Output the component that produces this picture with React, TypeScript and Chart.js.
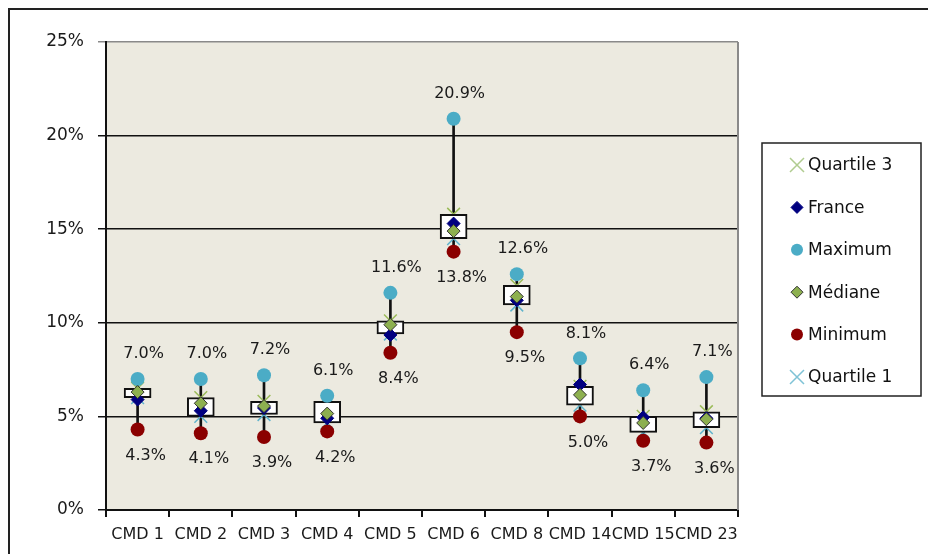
import { useEffect, useRef } from 'react';
import { Chart, registerables } from 'chart.js';
Chart.register(...registerables);

const CATEGORIES = ['CMD 1', 'CMD 2', 'CMD 3', 'CMD 4', 'CMD 5', 'CMD 6', 'CMD 8', 'CMD 14', 'CMD 15', 'CMD 23'];
const QUARTILE_3 = [6.5, 6.0, 5.8, 5.8, 10.1, 15.8, 12.0, 6.6, 5.0, 5.25];
const FRANCE = [5.9, 5.3, 5.45, 4.9, 9.35, 15.3, 11.2, 6.7, 4.95, 4.9];
const MAXIMUM = [7.0, 7.0, 7.2, 6.1, 11.6, 20.9, 12.6, 8.1, 6.4, 7.1];
const MEDIANE = [6.3, 5.7, 5.55, 5.15, 9.9, 14.9, 11.4, 6.15, 4.65, 4.85];
const MINIMUM = [4.3, 4.1, 3.9, 4.2, 8.4, 13.8, 9.5, 5.0, 3.7, 3.6];
const QUARTILE_1 = [6.0, 5.0, 5.1, 4.65, 9.4, 14.5, 10.95, 5.6, 4.15, 4.4];
const Y_TICKS = [0, 5, 10, 15, 20, 25];

const FONT = '"DejaVu Sans", sans-serif';
const C_Q3 = '#9BBB59';
const C_FR = '#000080';
const C_MAX = '#4BACC6';
const C_MED = '#8DB050';
const C_MIN = '#8B0000';
const C_Q1 = '#5FB3CC';

const LEGEND_ITEMS = [
  { label: 'Quartile 3', style: 'x', fill: C_Q3, stroke: '#B0CC90' },
  { label: 'France', style: 'diamond', fill: C_FR, stroke: C_FR },
  { label: 'Maximum', style: 'circle', fill: C_MAX, stroke: C_MAX },
  { label: 'Médiane', style: 'diamond', fill: C_MED, stroke: '#333' },
  { label: 'Minimum', style: 'circle', fill: C_MIN, stroke: C_MIN },
  { label: 'Quartile 1', style: 'x', fill: C_Q1, stroke: '#7FC3D6' },
];

function drawMarker(ctx: CanvasRenderingContext2D, style: string, x: number, y: number, r: number, fill: string, stroke: string) {
  ctx.save();
  ctx.beginPath();
  if (style === 'circle') {
    ctx.arc(x, y, r, 0, Math.PI * 2);
    ctx.fillStyle = fill;
    ctx.fill();
  } else if (style === 'diamond') {
    ctx.moveTo(x, y - r);
    ctx.lineTo(x + r, y);
    ctx.lineTo(x, y + r);
    ctx.lineTo(x - r, y);
    ctx.closePath();
    ctx.fillStyle = fill;
    ctx.fill();
    ctx.strokeStyle = stroke;
    ctx.lineWidth = 1;
    ctx.stroke();
  } else {
    ctx.moveTo(x - r, y - r);
    ctx.lineTo(x + r, y + r);
    ctx.moveTo(x + r, y - r);
    ctx.lineTo(x - r, y + r);
    ctx.strokeStyle = stroke;
    ctx.lineWidth = 1.5;
    ctx.stroke();
  }
  ctx.restore();
}

export default function App() {
  const ref = useRef<HTMLCanvasElement>(null);

  useEffect(() => {
    const canvas = ref.current!;

    const framePlugin = {
      id: 'frame',
      beforeDraw(chart: any) {
        const { ctx, chartArea: a } = chart;
        ctx.save();
        ctx.fillStyle = '#ffffff';
        ctx.fillRect(0, 0, chart.width, chart.height);
        ctx.fillStyle = '#ECEAE0';
        ctx.fillRect(a.left, a.top, a.right - a.left, a.bottom - a.top);
        ctx.strokeStyle = '#222';
        ctx.lineWidth = 2;
        ctx.beginPath();
        ctx.moveTo(9, chart.height);
        ctx.lineTo(9, 9);
        ctx.lineTo(chart.width, 9);
        ctx.stroke();
        ctx.restore();
      },
      beforeDatasetsDraw(chart: any) {
        const { ctx, chartArea: a } = chart;
        ctx.save();
        ctx.strokeStyle = '#8A8A8A';
        ctx.lineWidth = 2;
        ctx.beginPath();
        ctx.moveTo(a.right, a.top);
        ctx.lineTo(a.right, a.bottom);
        ctx.stroke();
        ctx.restore();
      },
    };

    const labelPlugin = {
      id: 'labels',
      afterDatasetsDraw(chart: any) {
        const ctx = chart.ctx;
        ctx.save();
        ctx.font = `16px ${FONT}`;
        ctx.fillStyle = '#1a1a1a';
        ctx.textAlign = 'center';
        ctx.textBaseline = 'middle';
        const maxMeta = chart.getDatasetMeta(4);
        const minMeta = chart.getDatasetMeta(5);
        maxMeta.data.forEach((p: any, i: number) => {
          ctx.fillText(MAXIMUM[i].toFixed(1) + '%', p.x + 6, p.y - 25);
        });
        minMeta.data.forEach((p: any, i: number) => {
          ctx.fillText(MINIMUM[i].toFixed(1) + '%', p.x + 8, p.y + 26);
        });
        ctx.restore();
      },
    };

    const legendPlugin = {
      id: 'customLegend',
      afterDraw(chart: any) {
        const ctx = chart.ctx;
        ctx.save();
        const left = 762, top = 143, w = 159, h = 253;
        ctx.fillStyle = '#fff';
        ctx.fillRect(left, top, w, h);
        ctx.strokeStyle = '#222';
        ctx.lineWidth = 1.5;
        ctx.strokeRect(left, top, w, h);
        ctx.font = `17px ${FONT}`;
        ctx.textAlign = 'left';
        ctx.textBaseline = 'middle';
        LEGEND_ITEMS.forEach((it, i) => {
          const y = 165 + i * 42.4;
          const r = it.style === 'x' ? 7 : it.style === 'circle' ? 6 : 6;
          drawMarker(ctx, it.style, 797, y, r, it.fill, it.stroke);
          ctx.fillStyle = '#111';
          ctx.fillText(it.label, 808, y + 1);
        });
        ctx.restore();
      },
    };

    const chart = new Chart(canvas, {
      type: 'bar',
      data: {
        labels: CATEGORIES,
        datasets: [
          {
            type: 'line',
            label: 'Quartile 3',
            data: QUARTILE_3,
            showLine: false,
            pointStyle: 'crossRot',
            pointRadius: 9,
            pointHoverRadius: 9,
            pointBorderColor: C_Q3,
            pointBorderWidth: 1.5,
            order: 6,
          } as any,
          {
            type: 'line',
            label: 'France',
            data: FRANCE,
            showLine: false,
            pointStyle: 'rectRot',
            pointRadius: 6.5,
            pointHoverRadius: 6.5,
            pointBackgroundColor: C_FR,
            pointBorderColor: C_FR,
            pointBorderWidth: 1,
            order: 1,
          },
          {
            type: 'line',
            label: 'Quartile 1',
            data: QUARTILE_1,
            showLine: false,
            pointStyle: 'crossRot',
            pointRadius: 9,
            pointHoverRadius: 9,
            pointBorderColor: C_Q1,
            pointBorderWidth: 1.5,
            order: 6,
          },
          {
            type: 'line',
            label: 'Médiane',
            data: MEDIANE,
            showLine: false,
            pointStyle: 'rectRot',
            pointRadius: 6.5,
            pointHoverRadius: 6.5,
            pointBackgroundColor: C_MED,
            pointBorderColor: '#333',
            pointBorderWidth: 1,
            order: 0,
          },
          {
            type: 'line',
            label: 'Maximum',
            data: MAXIMUM,
            showLine: false,
            pointStyle: 'circle',
            pointRadius: 7,
            pointHoverRadius: 7,
            pointBackgroundColor: C_MAX,
            pointBorderColor: C_MAX,
            pointBorderWidth: 0,
            order: 2,
          },
          {
            type: 'line',
            label: 'Minimum',
            data: MINIMUM,
            showLine: false,
            pointStyle: 'circle',
            pointRadius: 7,
            pointHoverRadius: 7,
            pointBackgroundColor: C_MIN,
            pointBorderColor: C_MIN,
            pointBorderWidth: 0,
            order: 2,
          },
          {
            type: 'bar',
            label: 'box',
            data: CATEGORIES.map((_, i) => [QUARTILE_1[i], QUARTILE_3[i]]),
            backgroundColor: '#ffffff',
            borderColor: '#111',
            borderWidth: 2,
            borderSkipped: false,
            barThickness: 27,
            grouped: false,
            order: 3,
          } as any,
          {
            type: 'bar',
            label: 'hilo',
            data: CATEGORIES.map((_, i) => [MINIMUM[i], MAXIMUM[i]]),
            backgroundColor: '#111',
            borderWidth: 0,
            barThickness: 2,
            grouped: false,
            order: 7,
          } as any,
        ],
      },
      options: {
        responsive: false,
        animation: false,
        events: [],
        layout: { padding: { top: 42, right: 190, left: 0, bottom: 0 } },
        plugins: { legend: { display: false }, tooltip: { enabled: false } },
        scales: {
          x: {
            offset: true,
            grid: { offset: true, drawOnChartArea: false, drawTicks: true, tickLength: 7, color: '#111', lineWidth: 2 },
            border: { color: '#111', width: 2 },
            ticks: {
              autoSkip: false,
              maxRotation: 0,
              minRotation: 0,
              padding: 8,
              color: '#1a1a1a',
              font: { family: FONT, size: 16 },
            },
            afterFit(scale: any) {
              scale.height = 44;
            },
          },
          y: {
            min: 0,
            max: 25,
            afterBuildTicks(scale: any) {
              scale.ticks = Y_TICKS.map((v) => ({ value: v }));
            },
            grid: {
              color: (c: any) => (c.tick && c.tick.value === 25 ? '#8A8A8A' : '#111'),
              lineWidth: 1.5,
              tickLength: 8,
              drawTicks: true,
            },
            border: { color: '#111', width: 2 },
            ticks: {
              padding: 14,
              color: '#1a1a1a',
              font: { family: FONT, size: 17 },
              callback: (v: any) => v + '%',
            },
            afterFit(scale: any) {
              scale.width = 106;
            },
          },
        },
      },
      plugins: [framePlugin, labelPlugin, legendPlugin],
    });

    return () => chart.destroy();
  }, []);

  return (
    <div style={{ position: 'absolute', left: 0, top: 0, width: 928, height: 554 }}>
      <canvas ref={ref} width={928} height={554} style={{ width: 928, height: 554, display: 'block' }} />
    </div>
  );
}
